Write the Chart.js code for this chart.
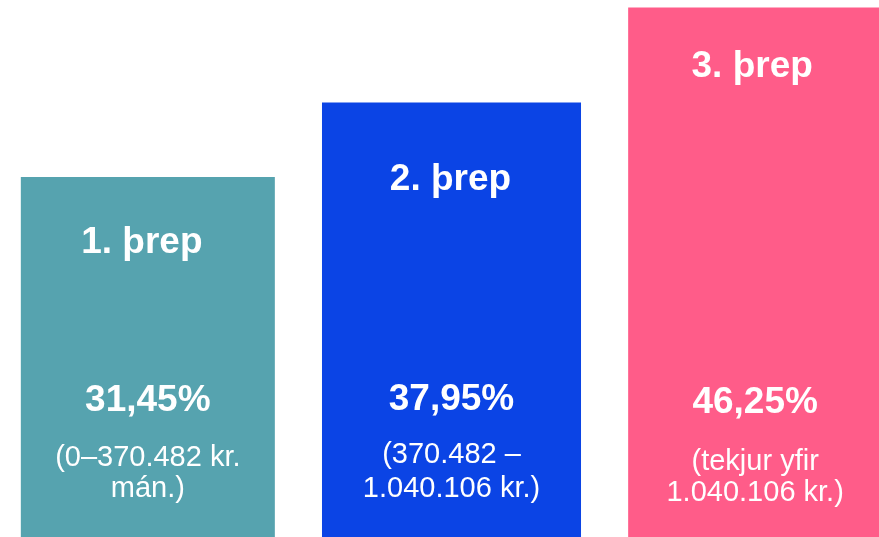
<!DOCTYPE html>
<html>
<head>
<meta charset="utf-8">
<script src="https://cdn.jsdelivr.net/npm/chart.js@4"></script>
<style>
  html, body { margin:0; padding:0; background:#fff; overflow:hidden; }
  #wrap { position:relative; left:-4px; width:911px; height:537px; }
</style>
</head>
<body>
<div id="wrap"><canvas id="c" width="911" height="537"></canvas></div>
<script>
// data
const tiers = ['1. þrep', '2. þrep', '3. þrep'];
const rates = [31.45, 37.95, 46.25];
const rateLabels = ['31,45%', '37,95%', '46,25%'];
const ranges = [
    ['(0–370.482 kr.', 'mán.)'],
    ['(370.482 –', '1.040.106 kr.)'],
    ['(tekjur yfir', '1.040.106 kr.)']
];

// styles
const colors = ['#56a3af', '#0b44e5', '#ff5c89'];
const barPct = [0.8365, 0.853, 0.8365];

// text baselines (px from top) per bar: title, percent, sub lines
const textLayout = [
    {title:253, titleDx:-6, pct:411, sub:[466, 497]},
    {title:190, titleDx:-1, pct:410, sub:[463, 497]},
    {title:77,  titleDx:-3, pct:413, sub:[470, 501]}
];

// one dataset per tier so each bar can keep its own width
const datasets = tiers.map((t, i) => ({
    label:t,
    data:rates.map((v, j) => j === i ? v : null),
    backgroundColor:colors[i],
    borderWidth:0,
    barPercentage:barPct[i],
    categoryPercentage:1
}));

const barText = {
    id:'barText',
    afterDatasetsDraw(chart) {
        const ctx = chart.ctx;
        ctx.save();
        ctx.fillStyle = '#fff';
        ctx.textAlign = 'center';
        ctx.textBaseline = 'alphabetic';
        tiers.forEach((t, i) => {
            const bar = chart.getDatasetMeta(i).data[i];
            const L = textLayout[i];
            ctx.font = "bold 37px 'Liberation Sans', Arial, sans-serif";
            ctx.fillText(t, bar.x + L.titleDx, L.title);
            ctx.fillText(rateLabels[i], bar.x, L.pct);
            ctx.font = "29px 'Liberation Sans', Arial, sans-serif";
            ranges[i].forEach((s, j) => ctx.fillText(s, bar.x, L.sub[j]));
        });
        ctx.restore();
    }
};

new Chart(document.getElementById('c'), {
    type:'bar',
    data:{labels:tiers, datasets},
    options:{
        responsive:false,
        animation:false,
        layout:{padding:0},
        plugins:{legend:{display:false}, tooltip:{enabled:false}},
        scales:{
            x:{display:false, stacked:true},
            y:{display:false, stacked:true, min:0, max:46.9}
        }
    },
    plugins:[barText]
});
</script>
</body>
</html>
